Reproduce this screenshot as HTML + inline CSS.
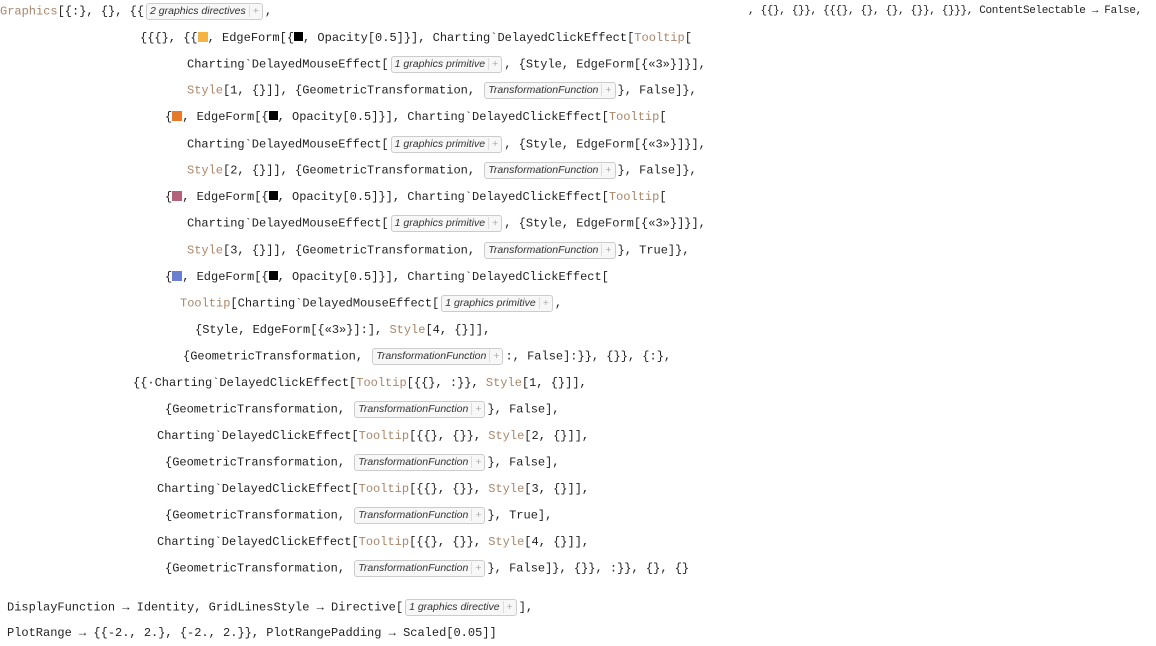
<!DOCTYPE html>
<html><head><meta charset="utf-8"><style>
html,body{margin:0;padding:0;background:#fff;width:1156px;height:646px;overflow:hidden}
.l{position:absolute;white-space:pre;font-family:"Liberation Mono",monospace;font-size:12px;color:#222;line-height:16px;transform:translateY(-8px)}
.k{color:#a8876a}
.b{display:inline-block;font-family:"Liberation Sans",sans-serif;font-style:italic;font-size:10.5px;color:#333;border:1px solid #ccc;border-radius:3px;background:#f7f7f7;padding:0 3px;line-height:15px;vertical-align:middle;margin:0 2px}
.b i{font-style:normal;color:#aaa;border-left:1px solid #ddd;padding-left:3px;margin-left:3px}
.sq{display:inline-block;width:10px;height:10px;vertical-align:-1px}
.blk{display:inline-block;width:9px;height:9px;background:#000;vertical-align:0}
</style></head><body>
<div class="l" style="left:0;top:11px"><span class="k">Graphics</span>[{:}, {}, {{<span class="b">2 graphics directives<i>+</i></span>,</div>
<div class="l" style="left:748px;top:11px;font-size:11px;letter-spacing:-0.35px">, {{}, {}}, {{{}, {}, {}, {}}, {}}}, ContentSelectable → False,</div>
<div class="l" style="left:140px;top:38px">{{{}, {{<span class="sq" style="background:#f5b342"></span>, EdgeForm[{<span class="blk"></span>, Opacity[0.5]}], Charting`DelayedClickEffect[<span class="k">Tooltip</span>[</div>
<div class="l" style="left:187px;top:64px">Charting`DelayedMouseEffect[<span class="b">1 graphics primitive<i>+</i></span>, {Style, EdgeForm[{«3»}]}],</div>
<div class="l" style="left:187px;top:90px"><span class="k">Style</span>[1, {}]], {GeometricTransformation, <span class="b">TransformationFunction<i>+</i></span>}, False]},</div>
<div class="l" style="left:165px;top:117px">{<span class="sq" style="background:#e8782a"></span>, EdgeForm[{<span class="blk"></span>, Opacity[0.5]}], Charting`DelayedClickEffect[<span class="k">Tooltip</span>[</div>
<div class="l" style="left:187px;top:144px">Charting`DelayedMouseEffect[<span class="b">1 graphics primitive<i>+</i></span>, {Style, EdgeForm[{«3»}]}],</div>
<div class="l" style="left:187px;top:170px"><span class="k">Style</span>[2, {}]], {GeometricTransformation, <span class="b">TransformationFunction<i>+</i></span>}, False]},</div>
<div class="l" style="left:165px;top:197px">{<span class="sq" style="background:#b5637a"></span>, EdgeForm[{<span class="blk"></span>, Opacity[0.5]}], Charting`DelayedClickEffect[<span class="k">Tooltip</span>[</div>
<div class="l" style="left:187px;top:223px">Charting`DelayedMouseEffect[<span class="b">1 graphics primitive<i>+</i></span>, {Style, EdgeForm[{«3»}]}],</div>
<div class="l" style="left:187px;top:250px"><span class="k">Style</span>[3, {}]], {GeometricTransformation, <span class="b">TransformationFunction<i>+</i></span>}, True]},</div>
<div class="l" style="left:165px;top:277px">{<span class="sq" style="background:#6b7fd0"></span>, EdgeForm[{<span class="blk"></span>, Opacity[0.5]}], Charting`DelayedClickEffect[</div>
<div class="l" style="left:180px;top:303px"><span class="k">Tooltip</span>[Charting`DelayedMouseEffect[<span class="b">1 graphics primitive<i>+</i></span>,</div>
<div class="l" style="left:195px;top:330px">{Style, EdgeForm[{«3»}]:], <span class="k">Style</span>[4, {}]],</div>
<div class="l" style="left:183px;top:356px">{GeometricTransformation, <span class="b">TransformationFunction<i>+</i></span>:, False]:}}, {}}, {:},</div>
<div class="l" style="left:133px;top:383px">{{·Charting`DelayedClickEffect[<span class="k">Tooltip</span>[{{}, :}}, <span class="k">Style</span>[1, {}]],</div>
<div class="l" style="left:165px;top:409px">{GeometricTransformation, <span class="b">TransformationFunction<i>+</i></span>}, False],</div>
<div class="l" style="left:157px;top:436px">Charting`DelayedClickEffect[<span class="k">Tooltip</span>[{{}, {}}, <span class="k">Style</span>[2, {}]],</div>
<div class="l" style="left:165px;top:462px">{GeometricTransformation, <span class="b">TransformationFunction<i>+</i></span>}, False],</div>
<div class="l" style="left:157px;top:489px">Charting`DelayedClickEffect[<span class="k">Tooltip</span>[{{}, {}}, <span class="k">Style</span>[3, {}]],</div>
<div class="l" style="left:165px;top:515px">{GeometricTransformation, <span class="b">TransformationFunction<i>+</i></span>}, True],</div>
<div class="l" style="left:157px;top:542px">Charting`DelayedClickEffect[<span class="k">Tooltip</span>[{{}, {}}, <span class="k">Style</span>[4, {}]],</div>
<div class="l" style="left:165px;top:568px">{GeometricTransformation, <span class="b">TransformationFunction<i>+</i></span>}, False]}, {}}, :}}, {}, {}</div>
<div class="l" style="left:7px;top:607px">DisplayFunction → Identity, GridLinesStyle → Directive[<span class="b">1 graphics directive<i>+</i></span>],</div>
<div class="l" style="left:7px;top:633px">PlotRange → {{-2., 2.}, {-2., 2.}}, PlotRangePadding → Scaled[0.05]]</div>
</body></html>
